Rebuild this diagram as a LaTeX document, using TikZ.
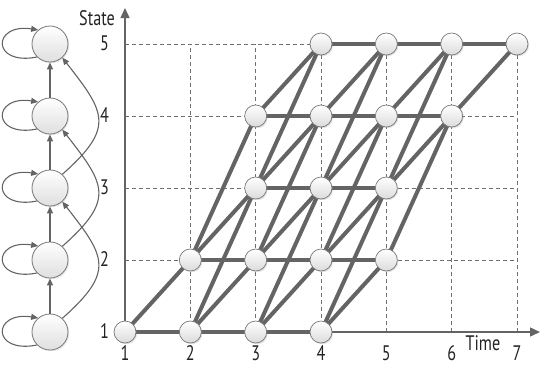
\documentclass[tikz,border=0pt]{standalone}
\usepackage{fontspec}
\setmainfont{PT Sans}[FakeStretch=0.77]
\usetikzlibrary{arrows.meta,shadows,backgrounds}
\definecolor{edgec}{RGB}{100,100,100}
\definecolor{gridc}{RGB}{112,112,112}
\definecolor{rimc}{RGB}{120,120,120}
\definecolor{txtc}{RGB}{35,35,35}
\begin{document}
\begin{tikzpicture}[x=1pt,y=-1pt,
  tnode/.style={circle, minimum size=22pt, inner sep=0pt, draw=rimc, line width=0.7pt,
    top color=white, bottom color=gray!28,
    drop shadow={shadow xshift=1.2pt, shadow yshift=-1.2pt, opacity=0.25}},
  snode/.style={circle, minimum size=36pt, inner sep=0pt, draw=rimc, line width=0.8pt,
    top color=white, bottom color=gray!25,
    drop shadow={shadow xshift=1.2pt, shadow yshift=-1.2pt, opacity=0.2}},
  trans/.style={draw=edgec, line width=4pt},
  gridline/.style={draw=gridc, line width=0.9pt, dash pattern=on 4pt off 3pt},
  axisline/.style={draw=edgec, line width=1.4pt, -{Triangle[length=10pt,width=9pt]}},
  harrow/.style={draw=edgec, line width=1.1pt, -{Triangle[length=7pt,width=6pt]}},
  lbl/.style={text=txtc, font=\fontsize{21}{24}\selectfont, inner sep=0pt, anchor=base},
]
\useasboundingbox (0,0) rectangle (540,365);

% ---------- left state diagram ----------
\foreach \s in {1,...,5}{
  \node[snode] (L\s) at (50,{332-72*(\s-1)}) {};
}
\foreach \a/\b in {1/2,2/3,3/4,4/5}{
  \draw[harrow] (L\a.north) -- (L\b.south);
}
% self loops (y axis points down here)
\foreach \s in {1,...,5}{
  \draw[harrow] (L\s.225) .. controls +(-46,9) and +(-46,-7) .. (L\s.130);
}
% skip transitions
\foreach \a/\b in {1/3,2/4,3/5}{
  \draw[harrow] (L\a.48) .. controls +(53,-47) and +(43,55) .. (L\b.-48);
}

% ---------- trellis nodes ----------
\foreach \t/\s in {1/1,2/1,2/2,3/1,3/2,3/3,3/4,4/1,4/2,4/3,4/4,4/5,5/2,5/3,5/4,5/5,6/4,6/5,7/5}{
  \node[tnode] (n\t\s) at ({125+65.33*(\t-1)},{332-72*(\s-1)}) {};
}

% axis end points
\coordinate (O) at (125,332);
\coordinate (ytip) at (125,8);
\coordinate (xtip) at (540,332);

\begin{pgfonlayer}{background}
  % dashed grid
  \foreach \s in {2,...,5}{
    \draw[gridline] (125,{332-72*(\s-1)}) -- (517,{332-72*(\s-1)});
  }
  \foreach \t in {2,...,7}{
    \draw[gridline] ({125+65.33*(\t-1)},332) -- ({125+65.33*(\t-1)},44);
  }
  % axes
  \draw[axisline] (O) -- (ytip);
  \draw[axisline] (O) -- (xtip);
  % transitions
  \foreach \a/\b in {11/21,11/22,
    21/31,21/32,21/33,22/32,22/33,22/34,
    31/41,31/42,31/43,32/42,32/43,32/44,33/43,33/44,33/45,34/44,34/45,
    41/52,41/53,42/52,42/53,42/54,43/53,43/54,43/55,44/54,44/55,45/55,
    52/64,53/64,53/65,54/64,54/65,55/65,
    64/75,65/75}{
    \draw[trans] (n\a.center) -- (n\b.center);
  }
\end{pgfonlayer}

% ---------- labels ----------
\node[lbl] (state) at (97,25) {State};
\node[lbl] (time) at (483,350) {Time};
\foreach \s in {1,...,5}{
  \node[lbl] (sl\s) at (104.5,{332-72*(\s-1)+6.5}) {\s};
}
\foreach \t in {1,...,7}{
  \node[lbl] (tl\t) at ({125+65.33*(\t-1)},360) {\t};
}
\end{tikzpicture}
\end{document}
